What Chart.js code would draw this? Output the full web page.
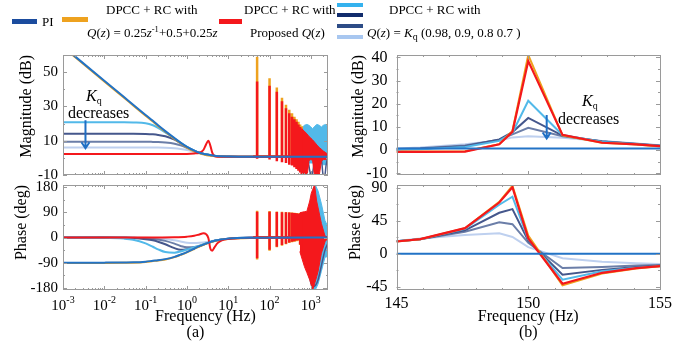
<!DOCTYPE html>
<html>
<head>
<meta charset="utf-8">
<title>Bode plots</title>
<script src="https://cdn.jsdelivr.net/npm/chart.js@4.4.1/dist/chart.umd.min.js"></script>
<style>
  body { margin: 0; background: #fff; }
  #fig { position: relative; width: 692px; height: 346px; overflow: hidden; background: #fff;
         font-family: "Liberation Serif", "Times New Roman", serif; color: #000; }
  #fig canvas { position: absolute; }
  .txt { position: absolute; white-space: nowrap; line-height: 1; }
  .sw { position: absolute; height: 5px; }
  .lg { font-size: 13px; }
  .an { font-size: 16px; }
  .sup { font-size: 8.5px; position: relative; top: -5px; }
  .sub { font-size: 10px; position: relative; top: 3px; }
</style>
</head>
<body>
<div id="fig">
  <canvas id="magA" width="340" height="140" style="left:0;top:40px"></canvas>
  <canvas id="phA" width="340" height="166" style="left:0;top:180px"></canvas>
  <canvas id="magB" width="352" height="140" style="left:340px;top:40px"></canvas>
  <canvas id="phB" width="352" height="166" style="left:340px;top:180px"></canvas>

  <!-- legend -->
  <div class="sw" style="left:12px;top:19px;width:25px;background:#1b4c9e"></div>
  <div class="txt lg" style="left:42px;top:15px">PI</div>
  <div class="sw" style="left:62px;top:17px;width:26px;background:#eea21f"></div>
  <div class="txt lg" style="left:106px;top:3px">DPCC + RC with</div>
  <div class="txt lg" style="left:87px;top:26px"><i>Q</i>(<i>z</i>) = 0.25<i>z</i><span class="sup">-1</span>+0.5+0.25<i>z</i></div>
  <div class="sw" style="left:219px;top:19px;width:23px;background:#f4181c"></div>
  <div class="txt lg" style="left:244px;top:3px">DPCC + RC with</div>
  <div class="txt lg" style="left:250px;top:26px">Proposed <i>Q</i>(<i>z</i>)</div>
  <div class="sw" style="left:337px;top:3px;width:26px;height:4px;background:#35b2ee"></div>
  <div class="sw" style="left:337px;top:13px;width:26px;height:4px;background:#112c6c"></div>
  <div class="sw" style="left:337px;top:24px;width:26px;height:4px;background:#2d4c86"></div>
  <div class="sw" style="left:337px;top:35px;width:26px;height:4px;background:#a8c7f0"></div>
  <div class="txt lg" style="left:389px;top:3px">DPCC + RC with</div>
  <div class="txt lg" style="left:367px;top:26px"><i>Q</i>(<i>z</i>) = <i>K</i><span class="sub">q</span> (0.98, 0.9, 0.8 0.7 )</div>

  <!-- annotations -->
  <div class="txt an" style="left:86px;top:88px"><i>K</i><span class="sub">q</span></div>
  <div class="txt an" style="left:68px;top:105px">decreases</div>
  <div class="txt an" style="left:582px;top:93px"><i>K</i><span class="sub">q</span></div>
  <div class="txt an" style="left:558px;top:111px">decreases</div>
</div>

<script>
// ---------- (a) wide band, log frequency ----------
const decadeTicks = [0.001, 0.01, 0.1, 1, 10, 100, 1000];
const magTicksA = [-10, 10, 30, 50];
const phaseTicksA = [-180, -90, 0, 90, 180];

// smooth low-frequency part
const fLow    = [0.001, 0.01, 0.03, 0.05, 0.1, 0.15, 0.2, 0.3, 0.5, 0.7, 1, 1.5, 2, 3, 5, 10, 40, 2600];
const piMag   = [65, 45, 35.5, 31, 25, 21.6, 19, 15.6, 11.5, 8.9, 6.4, 4.2, 3.0, 1.9, 1.1, 0.8, 0.7, 0.7];
const oraMag  = [64.6, 44.6, 35.1, 30.6, 24.6, 21.2, 18.6, 15.2, 11.1, 8.5, 6.0, 3.8, 2.6, 1.5, 0.9, 0.7, 0.7, 0.7];
const kq98Mag = [20.7, 20.7, 20.7, 20.6, 20.2, 19.0, 17.5, 14.8, 11.3, 8.8, 6.4, 4.2, 3.0, 1.9, 1.1, 0.8, 0.7, 0.7];
const kq90Mag = [14, 14, 14, 14, 13.9, 13.7, 13.4, 12.6, 10.6, 8.6, 6.3, 4.2, 3.0, 1.9, 1.1, 0.8, 0.7, 0.7];
const kq80Mag = [9.4, 9.4, 9.4, 9.4, 9.4, 9.3, 9.2, 8.9, 8.2, 7.3, 5.9, 4.1, 3.0, 1.9, 1.1, 0.8, 0.7, 0.7];
const kq70Mag = [6, 6, 6, 6, 6, 6, 6, 5.9, 5.6, 5.2, 4.6, 3.6, 2.8, 1.9, 1.1, 0.8, 0.7, 0.7];
const piPh    = [-90, -89.5, -89, -88.5, -86, -83, -81, -77, -69, -61, -52, -40, -31, -21, -11, -4, -1, 0];
const oraPh   = [-91, -90.5, -90, -89.5, -87, -84, -82, -78, -70, -62, -53, -41, -32, -22, -12, -5, -1.5, 0];
const kq98Ph  = [0, -1, -4, -8, -21, -33, -42, -52, -54, -50, -43, -35, -29, -20, -11, -4, -1, 0];
const kq90Ph  = [0, 0, -1, -2, -6, -10, -15, -24, -38, -44, -42, -37, -31, -21, -11, -4, -1, 0];
const kq80Ph  = [0, 0, 0, -1, -3, -5, -7, -12, -22, -30, -35, -34, -30, -21, -11, -4, -1, 0];
const kq70Ph  = [0, 0, 0, 0, -1, -2, -3, -5, -10, -14, -19, -20, -19, -16, -10, -4, -1, 0];

const fRed   = [0.001, 0.1, 0.5, 1, 1.5, 2, 2.5, 2.9, 3.3, 3.7, 4.1, 4.6, 5.5, 7, 10, 20, 40, 2600];
const redMag = [2.2, 2.2, 2.2, 2.3, 2.6, 3.0, 4.6, 7.8, 10, 7, 3, 1, 0.7, 0.7, 0.7, 0.7, 0.7, 0.7];
const redPh  = [0, 0, 1, 3, 6, 11, 15, 12, -2, -40, -47, -36, -20, -10, -5, -2, -1, 0];

// resonant peaks at the harmonics
const harm       = [50, 100, 150, 200, 250, 300, 350, 400, 450, 500, 550, 600];
const redPeakMag = [44.5, 42, 38.5, 33, 29, 26, 24, 22.5, 21, 19.5, 18, 17];
const redDipMag  = [-0.5, -1, -2, -2.5, -3, -4, -4.5, -5.5, -6.5, -7.5, -8.5, -9.5];
const oraPeakMag = [59, 46.5, 41, 35, 31, 28, 26, 24, 22.5, 21, 19.5, 18.5];
const redPeakPh  = [92, 92, 91, 90, 90, 89, 88, 87, 86, 85, 86, 88];
const redDipPh   = [-74, -44, -33, -27, -22, -18, -15, -13, -11, -10, -25, -50];
const oraPeakPh  = [95, 94, 93, 92, 91, 90, 89, 88, 87, 86, 87, 89];
const oraDipPh   = [-78, -47, -35, -29, -24, -20, -17, -15, -13, -12, -27, -52];

// dense high-frequency region (envelopes)
const fDense    = [600, 700, 800, 900, 1000, 1100, 1250, 1400, 1600, 1800, 2000, 2300, 2600];
const redTopMag = [17, 15.5, 14, 12.5, 11.5, 10.5, 9, 7.5, 6, 5, 4, 3, 2];
const redBotMag = [-9.5, -12, -12, -1.5, -1, -1.5, -12, -12, -10, -2, -1, -1, 0];
const fBlue     = [550, 600, 700, 800, 900, 1000, 1100, 1250, 1400, 1600, 1800, 2000, 2300, 2600];
const kqTopMag  = [10, 17.5, 19, 19.5, 19, 18, 17, 18.5, 19.5, 19, 18, 19, 19.5, 18.5];
const kqBotMag  = [0, -1, -2, -3, -3, -3, -3, -3, -3, -3, -3, -4, -4, -2];
const fLoop     = [700, 840, 950, 1050, 1150, 1230, 1500, 1800, 1950, 2150, 2350, 2600];
const navyLoopMag = [0.7, -1, -8, -11, -6, -1, -3, -1, -9, -11, -4, 1];

const fDenseP  = [540, 700, 800, 940, 1020, 1100, 1230, 1380, 1500, 1800, 2200, 2600];
const redTopPh = [88, 92, 93, 130, 157, 170, 188, 130, 105, 50, 5, 2];
const redBotPh = [-50, -104, -125, -151, -170, -188, -165, -140, -120, -56, -15, -2];
const fBlueP   = [900, 1100, 1300, 1500, 1800, 2200, 2600];
const kqTopPh  = [100, 160, 185, 165, 120, 60, 38];
const kqBotPh  = [-140, -188, -185, -165, -120, -70, -68];
const navyLoopPh = [-120, -175, -170, -150, -100, -45, -20];

// ---------- (b) zoom around 150 Hz ----------
const freqTicksB = [145, 150, 155];
const magTicksB = [-10, 0, 10, 20, 30, 40];
const phaseTicksB = [-45, 0, 45, 90];
const fB      = [145, 145.9, 147.6, 148.9, 149.4, 150.0, 151.3, 152.8, 154.1, 155];
const piMagB  = [0.7, 0.7, 0.7, 0.7, 0.7, 0.7, 0.7, 0.7, 0.7, 0.7];
const redMagB = [-0.7, -0.7, -0.6, 2.5, 7.9, 38.4, 6.6, 3.2, 2.5, 1.7];
const oraMagB = [-0.6, -0.6, -0.5, 2.6, 8.3, 41, 6.4, 3.2, 2.4, 1.6];
const k98MagB = [0.2, 0.4, 1.4, 4.0, 7.5, 21.3, 6.5, 3.5, 2.6, 1.8];
const k90MagB = [0.4, 0.6, 1.7, 4.6, 7.8, 13.9, 6.3, 3.7, 2.7, 1.9];
const k80MagB = [0.5, 0.8, 2.0, 4.5, 6.8, 9.6, 6.0, 3.8, 2.8, 2.0];
const k70MagB = [0.7, 1.1, 2.5, 4.2, 5.5, 6.0, 5.3, 3.9, 2.9, 2.1];
const piPhB   = [0, 0, 0, 0, 0, 0, 0, 0, 0, 0];
const redPhB  = [16.8, 20, 35, 70, 91, 21, -41, -26, -19.5, -17];
const oraPhB  = [16.8, 20, 35, 71, 93, 25, -43, -27, -20, -17];
const k98PhB  = [17, 20, 34, 67, 78, 20, -35.5, -24, -19, -17];
const k90PhB  = [17, 20, 32, 56, 61, 18, -28.6, -22, -18, -16.5];
const k80PhB  = [17, 20, 30, 43, 40.5, 15, -19.5, -18, -16, -15.5];
const k70PhB  = [17.5, 21, 25.5, 28, 23, 9, -6, -11, -13, -14];

const C = {
  pi: '#2273c6', ora: '#eea21f', red: '#f4181c',
  k98: '#52b9e9', k90: '#45578c', k80: '#6b7ea8', k70: '#bed0ef'
};
const serif = '"Liberation Serif", "Times New Roman", serif';

const pts = (xs, ys) => xs.map((x, i) => ({x, y: ys[i]}));

function spikePts(from, freqs, tops, bots, base) {
  const out = [{x: from, y: base}];
  freqs.forEach((f, i) => {
    out.push({x: f, y: base}, {x: f, y: tops[i]}, {x: f, y: bots ? bots[i] : base}, {x: f, y: base});
  });
  return out;
}

function line(data, color, width, smooth) {
  return {
    data, borderColor: color, backgroundColor: color, borderWidth: width,
    pointRadius: 0, fill: false, clip: 0, tension: 0,
    cubicInterpolationMode: smooth ? 'monotone' : 'default'
  };
}

function band(xs, top, bot, color) {
  return [
    {data: pts(xs, top), borderColor: color, backgroundColor: color, borderWidth: 1, pointRadius: 0, fill: '+1', clip: 0},
    {data: pts(xs, bot), borderColor: color, backgroundColor: color, borderWidth: 1, pointRadius: 0, fill: false, clip: 0}
  ];
}

// grey box with inward tick marks
const framePlugin = {
  id: 'frame',
  afterDatasetsDraw(chart, args, opts) {
    const {ctx, chartArea: a, scales: {x, y}} = chart;
    ctx.save();
    ctx.strokeStyle = '#9a9a9a';
    ctx.lineWidth = 1;
    ctx.beginPath();
    const markX = (vals, len) => vals.forEach(v => {
      const p = Math.round(x.getPixelForValue(v)) + 0.5;
      ctx.moveTo(p, a.top); ctx.lineTo(p, a.top + len);
      ctx.moveTo(p, a.bottom); ctx.lineTo(p, a.bottom - len);
    });
    const markY = (vals, len) => vals.forEach(v => {
      const p = Math.round(y.getPixelForValue(v)) + 0.5;
      ctx.moveTo(a.left, p); ctx.lineTo(a.left + len, p);
      ctx.moveTo(a.right, p); ctx.lineTo(a.right - len, p);
    });
    markX(x.ticks.map(t => t.value), 4);
    markY(y.ticks.map(t => t.value), 4);
    markX(opts.xMinor || [], 2);
    markY(opts.yMinor || [], 2);
    ctx.stroke();
    ctx.strokeRect(Math.round(a.left) + 0.5, Math.round(a.top) + 0.5,
                   Math.round(a.right - a.left) - 1, Math.round(a.bottom - a.top) - 1);
    ctx.restore();
  }
};

// "K_q decreases" arrow, placed in data coordinates
const arrowPlugin = {
  id: 'kqArrow',
  afterDatasetsDraw(chart, args, o) {
    const {ctx, scales} = chart;
    const x = scales.x.getPixelForValue(o.x);
    const y1 = scales.y.getPixelForValue(o.y1);
    const y2 = scales.y.getPixelForValue(o.y2);
    ctx.save();
    ctx.strokeStyle = '#1f6fc4';
    ctx.lineWidth = 2;
    ctx.beginPath();
    ctx.moveTo(x, y1); ctx.lineTo(x, y2);
    ctx.moveTo(x - 4, y2 - 6); ctx.lineTo(x, y2); ctx.lineTo(x + 4, y2 - 6);
    ctx.stroke();
    ctx.restore();
  }
};

// 10^n labels for the log axis
const decadePlugin = {
  id: 'decades',
  afterDraw(chart) {
    const {ctx, scales: {x}} = chart;
    ctx.save();
    ctx.fillStyle = '#000';
    ctx.textBaseline = 'alphabetic';
    decadeTicks.forEach(v => {
      const e = Math.round(Math.log10(v));
      const sup = String(e);
      ctx.font = '15px ' + serif;
      const wb = ctx.measureText('10').width;
      ctx.font = '10px ' + serif;
      const ws = ctx.measureText(sup).width;
      const left = x.getPixelForValue(v) - (wb + ws) / 2;
      ctx.font = '15px ' + serif;
      ctx.fillText('10', left, x.top + 19.5);
      ctx.font = '10px ' + serif;
      ctx.fillText(sup, left + wb, x.top + 12.5);
    });
    ctx.restore();
  }
};

const logMinor = [];
[0.001, 0.01, 0.1, 1, 10, 100, 1000].forEach(d => {
  for (let k = 2; k <= 9; k++) if (d * k <= 2600) logMinor.push(d * k);
});

// fixed axis sizes, no extra room for overhanging labels
function fixWidth(w) {
  return s => { s.width = w; s.paddingTop = 0; s.paddingBottom = 0; };
}
function fixHeight(h) {
  return s => { s.height = h; s.paddingLeft = 0; s.paddingRight = 0; };
}

function yAxis(min, max, ticks, title, size, width, pad, titlePad) {
  return {
    type: 'linear', min, max,
    afterBuildTicks: s => { s.ticks = ticks.map(v => ({value: v})); },
    afterFit: fixWidth(width),
    grid: {display: false, drawTicks: false},
    border: {display: false},
    ticks: {color: '#000', font: {family: serif, size}, padding: pad, callback: v => String(v)},
    title: {display: true, text: title, align: 'end', color: '#000',
            font: {family: serif, size: 16}, padding: {top: titlePad, bottom: 0}}
  };
}

function xTitle(text) {
  return {display: true, text, color: '#000', font: {family: serif, size: 16, lineHeight: 1},
          padding: {top: 0, bottom: 5}};
}

function logX(height, title) {
  return {
    type: 'logarithmic', min: 0.001, max: 2600,
    afterBuildTicks: s => { s.ticks = decadeTicks.map(v => ({value: v})); },
    afterFit: fixHeight(height),
    grid: {display: false, drawTicks: false},
    border: {display: false},
    ticks: {display: false},
    title: title ? xTitle(title) : {display: false}
  };
}

function linX(height, title) {
  return {
    type: 'linear', min: 145, max: 155,
    afterBuildTicks: s => { s.ticks = freqTicksB.map(v => ({value: v})); },
    afterFit: fixHeight(height),
    grid: {display: false, drawTicks: false},
    border: {display: false},
    ticks: {display: !!title, color: '#000', font: {family: serif, size: 16}, padding: 4,
            maxRotation: 0, autoSkip: false},
    title: title ? xTitle(title) : {display: false}
  };
}

function options(x, y, pad, plug) {
  return {
    responsive: false, animation: false, events: [],
    layout: {padding: pad},
    plugins: Object.assign({legend: {display: false}, tooltip: {enabled: false}}, plug),
    scales: {x, y}
  };
}

// ---- (a) magnitude ----
new Chart(document.getElementById('magA'), {
  type: 'line',
  data: {datasets: [
    line(pts(fLow, piMag), C.pi, 2, true),
    line(pts(fRed, redMag), C.red, 2, true),
    line(spikePts(40, harm, redPeakMag, redDipMag, 0.7), C.red, 2.5, false),
    ...band(fDense, redTopMag, redBotMag, C.red),
    line(pts(fLow, oraMag), C.ora, 2, true),
    line(spikePts(40, harm, oraPeakMag, null, 0.7), C.ora, 2.5, false),
    line(pts(fLoop, navyLoopMag), C.k90, 1.5, true),
    line(pts(fLow, kq98Mag), C.k98, 2, true),
    line(pts(fLow, kq90Mag), C.k90, 2, true),
    line(pts(fLow, kq80Mag), C.k80, 2, true),
    line(pts(fLow, kq70Mag), C.k70, 2, true),
    ...band(fBlue, kqTopMag, kqBotMag, C.k98)
  ]},
  options: options(logX(0, null), yAxis(-10, 60, magTicksA, 'Magnitude (dB)', 15, 63, 5, 16.7),
    {left: 0, right: 12, top: 15, bottom: 5},
    {frame: {xMinor: logMinor, yMinor: [0, 20, 40, 60]}, kqArrow: {x: 0.0035, y1: 22, y2: 5.6}}),
  plugins: [framePlugin, arrowPlugin]
});

// ---- (a) phase ----
new Chart(document.getElementById('phA'), {
  type: 'line',
  data: {datasets: [
    line(pts(fLow, piPh), C.pi, 2, true),
    line(pts(fRed, redPh), C.red, 2, true),
    line(spikePts(40, harm, redPeakPh, redDipPh, 0), C.red, 2.5, false),
    ...band(fDenseP, redTopPh, redBotPh, C.red),
    line(pts(fLow, oraPh), C.ora, 2, true),
    line(spikePts(40, harm, oraPeakPh, oraDipPh, 0), C.ora, 2.5, false),
    line(pts(fBlueP, navyLoopPh), C.k90, 1.5, true),
    line(pts(fLow, kq98Ph), C.k98, 2, true),
    line(pts(fLow, kq90Ph), C.k90, 2, true),
    line(pts(fLow, kq80Ph), C.k80, 2, true),
    line(pts(fLow, kq70Ph), C.k70, 2, true),
    ...band(fBlueP, kqTopPh, kqBotPh, C.k98)
  ]},
  options: options(logX(56, ['     Frequency (Hz)', '(a)']),
    yAxis(-187, 187, phaseTicksA, 'Phase (deg)', 15, 63, 5, 12.6),
    {left: 0, right: 12, top: 5, bottom: 0},
    {frame: {xMinor: logMinor, yMinor: [-135, -45, 45, 135]}}),
  plugins: [framePlugin, decadePlugin]
});

// ---- (b) magnitude ----
new Chart(document.getElementById('magB'), {
  type: 'line',
  data: {datasets: [
    line(pts(fB, piMagB), C.pi, 2, false),
    line(pts(fB, redMagB), C.red, 2.2, false),
    line(pts(fB, oraMagB), C.ora, 2, false),
    line(pts(fB, k98MagB), C.k98, 2, false),
    line(pts(fB, k90MagB), C.k90, 2, false),
    line(pts(fB, k80MagB), C.k80, 2, false),
    line(pts(fB, k70MagB), C.k70, 2, false)
  ]},
  options: options(linX(0, null), yAxis(-10.7, 41, magTicksB, 'Magnitude (dB)', 16, 56.5, 9, 8.7),
    {left: 0, right: 32, top: 15, bottom: 5},
    {frame: {xMinor: [146, 147, 148, 149, 151, 152, 153, 154], yMinor: [-5, 5, 15, 25, 35]},
     kqArrow: {x: 150.7, y1: 15.2, y2: 5.0}}),
  plugins: [framePlugin, arrowPlugin]
});

// ---- (b) phase ----
new Chart(document.getElementById('phB'), {
  type: 'line',
  data: {datasets: [
    line(pts(fB, piPhB), C.pi, 2, false),
    line(pts(fB, redPhB), C.red, 2.2, false),
    line(pts(fB, oraPhB), C.ora, 2, false),
    line(pts(fB, k98PhB), C.k98, 2, false),
    line(pts(fB, k90PhB), C.k90, 2, false),
    line(pts(fB, k80PhB), C.k80, 2, false),
    line(pts(fB, k70PhB), C.k70, 2, false)
  ]},
  options: options(linX(56, ['Frequency (Hz)', '(b)']),
    yAxis(-49.5, 94, phaseTicksB, 'Phase (deg)', 16, 56.5, 9, 6.2),
    {left: 0, right: 32, top: 5, bottom: 0},
    {frame: {xMinor: [146, 147, 148, 149, 151, 152, 153, 154], yMinor: [-22.5, 22.5, 67.5]}}),
  plugins: [framePlugin]
});
</script>
</body>
</html>
